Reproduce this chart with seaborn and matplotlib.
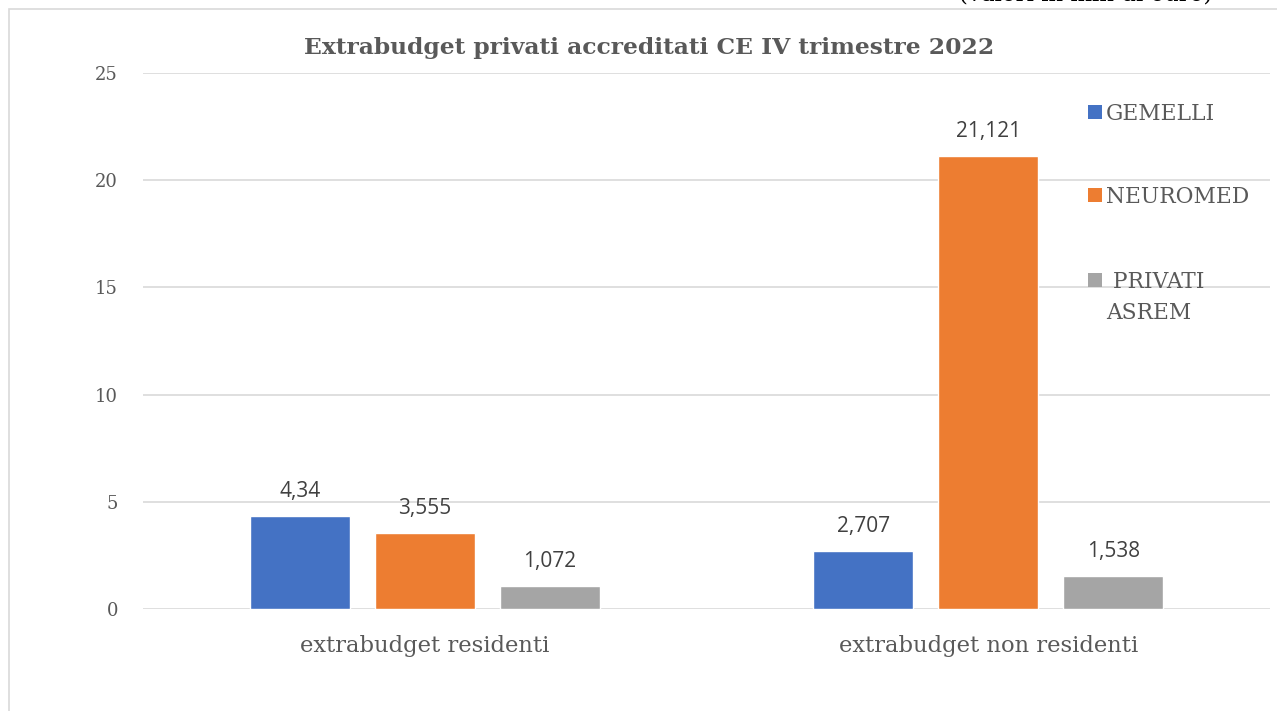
import matplotlib
matplotlib.use("Agg")
import matplotlib.pyplot as plt
import seaborn as sns
import pandas as pd
from matplotlib.patches import Rectangle

categories = ["extrabudget residenti", "extrabudget non residenti"]
series = ["GEMELLI", "NEUROMED", "PRIVATI ASREM"]
legend_labels = ["GEMELLI", "NEUROMED", " PRIVATI\nASREM"]
gemelli = [4.34, 2.707]
neuromed = [3.555, 21.121]
privati = [1.072, 1.538]
value_labels = [["4,34", "2,707"], ["3,555", "21,121"], ["1,072", "1,538"]]
yticks = [0, 5, 10, 15, 20, 25]
colors = ["#4472C4", "#ED7D31", "#A5A5A5"]

rows = []
for s, vals in zip(series, [gemelli, neuromed, privati]):
    for c, v in zip(categories, vals):
        rows.append({"categoria": c, "serie": s, "valore": v})
df = pd.DataFrame(rows)

sns.set_theme(style="white")
plt.rcParams["font.family"] = ["DejaVu Serif"]

W, H = 1277, 711
fig = plt.figure(figsize=(W / 100, H / 100), dpi=100)
ax = fig.add_axes([143/W, 1-609/H, (1270-143)/W, (609-73)/H])

sns.barplot(data=df, x="categoria", y="valore", hue="serie", order=categories,
            hue_order=series, palette=colors, width=0.665, gap=0.2,
            saturation=1, ax=ax, legend=False, zorder=3)

ax.set_xlim(-0.5, 1.5)
ax.set_ylim(0, 25)
ax.set_yticks(yticks)
ax.set_yticklabels([str(t) for t in yticks], fontsize=13, color="#595959")
ax.tick_params(axis="y", length=0, pad=18)
ax.tick_params(axis="x", length=0, pad=19, labelsize=16.3, labelcolor="#595959")
ax.set_xlabel("")
ax.set_ylabel("")
ax.yaxis.grid(True, color="#d9d9d9", linewidth=1.2, zorder=0)
ax.set_axisbelow(True)
for sp in ax.spines.values():
    sp.set_visible(False)

for container, labs in zip(ax.containers, value_labels):
    ax.bar_label(container, labels=labs, padding=10, fontsize=15,
                 color="#404040", family="Open Sans")

fig.text(649/W, 1-48/H, "Extrabudget privati accreditati CE IV trimestre 2022",
         ha="center", va="center", fontsize=16.8, fontweight="bold",
         color="#595959")

# legend drawn at right, inside the plot area (marker aligned with first line)
leg_y = [112, 195, 280]
line_step = 31
for lab, col, y in zip(legend_labels, colors, leg_y):
    fig.patches.append(Rectangle((1088/W, 1-(y+7)/H), 14/W, 14/H,
                                 transform=fig.transFigure, facecolor=col,
                                 edgecolor="none"))
    extra = line_step * lab.count("\n")
    fig.text(1106/W, 1-(y+8+extra)/H, lab, ha="left", va="baseline",
             fontsize=15.7, color="#595959", linespacing=1.55)

fig.patches.append(Rectangle((9/W, -0.05), 1.2, 1.05 - 9/H,
                             transform=fig.transFigure, fill=False,
                             edgecolor="#d9d9d9", linewidth=1.2))
fig.text(1212/W, 1 + 5/H, "(valori in mln di euro)", ha="right", va="center",
         fontsize=16.5, color="#000000")

fig.savefig("out.png", dpi=100)
